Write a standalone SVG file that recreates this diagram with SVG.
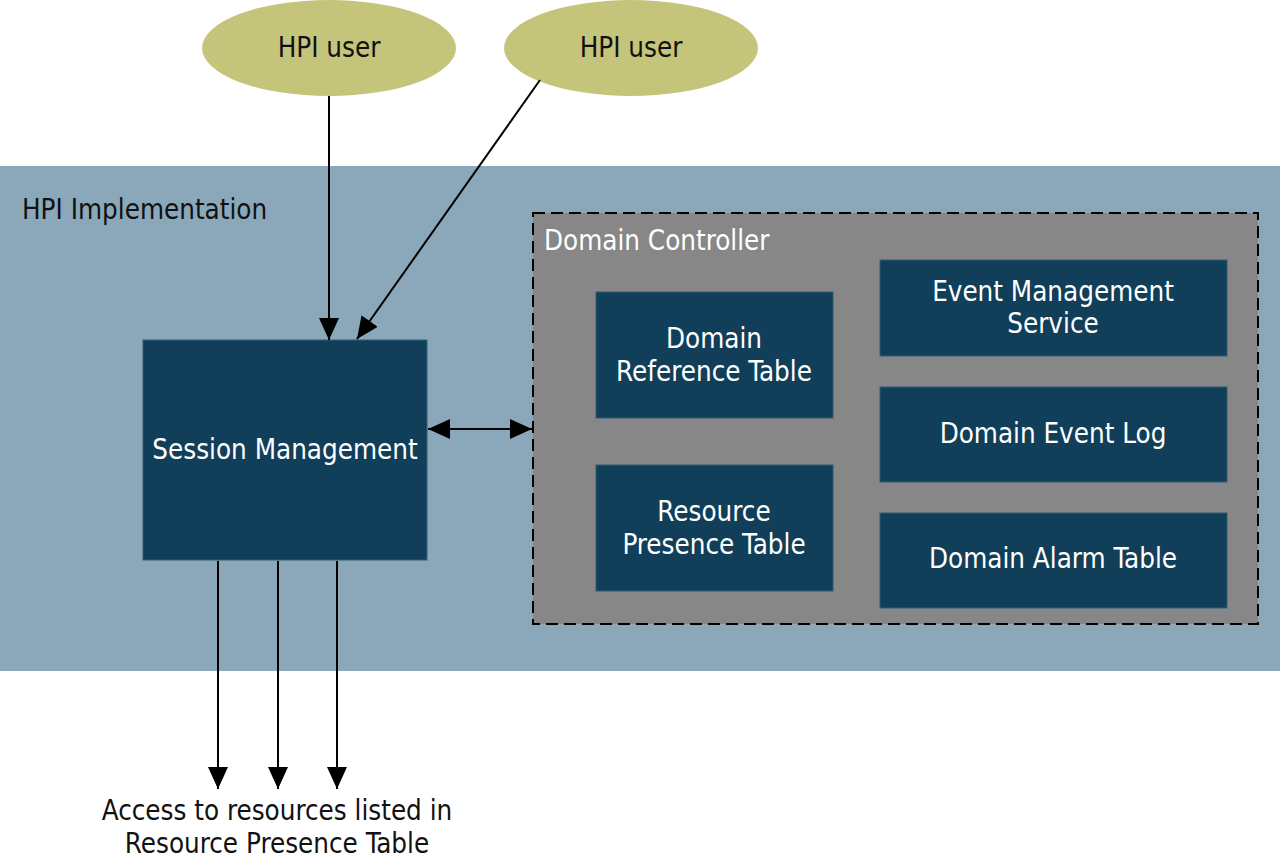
<svg xmlns="http://www.w3.org/2000/svg" width="1280" height="862" viewBox="0 0 1280 862">
<style>
text{font-family:"DejaVu Sans Condensed","DejaVu Sans",sans-serif;font-size:27.5px}
.dark{fill:#113f59;stroke:#2f5f78;stroke-width:1}
.w{fill:#ffffff;text-anchor:middle}
.k{fill:#111111}
.c{text-anchor:middle}
.ln{stroke:#000;stroke-width:2;fill:none}
</style>
<defs>
<marker id="a" viewBox="0 0 22 20" refX="22" refY="10" markerWidth="22" markerHeight="20" markerUnits="userSpaceOnUse" orient="auto-start-reverse">
<path d="M0,0 L22,10 L0,20 z" fill="#000"/>
</marker>
</defs>
<g id="hpi-implementation">
<rect x="0" y="166" width="1280" height="505" fill="#8aa8b9"/>
<text x="22" y="219" class="k">HPI Implementation</text>
</g>
<g id="domain-controller">
<rect x="533" y="213" width="725" height="411" fill="#878787" stroke="#000" stroke-width="2" stroke-dasharray="12,6"/>
<text x="544" y="250" fill="#ffffff">Domain Controller</text>
</g>
<g id="user1">
<ellipse cx="329" cy="48" rx="127" ry="48" fill="#c4c47a"/>
<text x="329" y="57" class="k c">HPI user</text>
</g>
<g id="user2">
<ellipse cx="631" cy="48" rx="127" ry="48" fill="#c4c47a"/>
<text x="631" y="57" class="k c">HPI user</text>
</g>
<g id="session-management">
<rect x="143" y="340" width="284" height="220" class="dark"/>
<text x="285" y="459" class="w">Session Management</text>
</g>
<g id="domain-reference-table">
<rect x="596" y="292" width="237" height="126" class="dark"/>
<text x="714" y="348" class="w">Domain</text>
<text x="714" y="381" class="w">Reference Table</text>
</g>
<g id="resource-presence-table">
<rect x="596" y="465" width="237" height="126" class="dark"/>
<text x="714" y="521" class="w">Resource</text>
<text x="714" y="554" class="w">Presence Table</text>
</g>
<g id="event-management-service">
<rect x="880" y="260" width="347" height="96" class="dark"/>
<text x="1053" y="301" class="w">Event Management</text>
<text x="1053" y="333" class="w">Service</text>
</g>
<g id="domain-event-log">
<rect x="880" y="387" width="347" height="95" class="dark"/>
<text x="1053" y="443" class="w">Domain Event Log</text>
</g>
<g id="domain-alarm-table">
<rect x="880" y="513" width="347" height="95" class="dark"/>
<text x="1053" y="568" class="w">Domain Alarm Table</text>
</g>
<g id="access-label">
<text x="277" y="820" class="k c">Access to resources listed in</text>
<text x="277" y="853" class="k c">Resource Presence Table</text>
</g>
<g id="connectors">
<line x1="329" y1="96" x2="329" y2="340" class="ln" marker-end="url(#a)"/>
<line x1="540" y1="80" x2="357" y2="339" class="ln" marker-end="url(#a)"/>
<line x1="428" y1="429" x2="532" y2="429" class="ln" marker-start="url(#a)" marker-end="url(#a)"/>
<line x1="218" y1="561" x2="218" y2="789" class="ln" marker-end="url(#a)"/>
<line x1="278" y1="561" x2="278" y2="789" class="ln" marker-end="url(#a)"/>
<line x1="337" y1="561" x2="337" y2="789" class="ln" marker-end="url(#a)"/>
</g>
</svg>
